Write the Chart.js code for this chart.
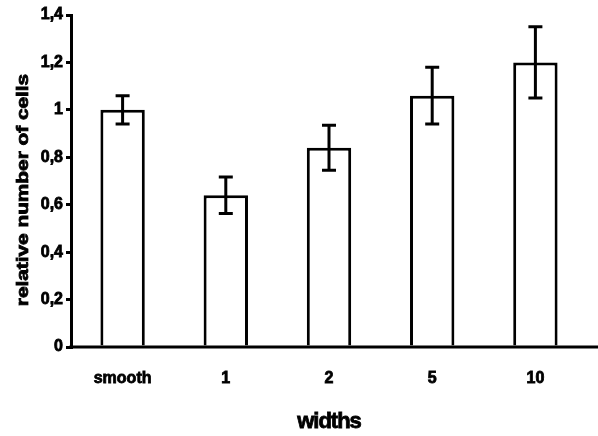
<!DOCTYPE html>
<html>
<head>
<meta charset="utf-8">
<script src="https://cdn.jsdelivr.net/npm/chart.js@4/dist/chart.umd.min.js"></script>
<style>
  html, body { margin: 0; padding: 0; background: #fff; }
  #wrap { width: 598px; height: 436px; }
</style>
</head>
<body>
<div id="wrap"><canvas id="c" width="598" height="436"></canvas></div>
<script>
// Relative cell counts per surface width, with error bar half-lengths
const categories = ['smooth', '1', '2', '5', '10'];
const values = [1.0, 0.64, 0.84, 1.06, 1.2];
const errors = [0.06, 0.077, 0.095, 0.12, 0.15];
const yTickLabels = ['0', '0,2', '0,4', '0,6', '0,8', '1', '1,2', '1,4'];
const xTitle = 'widths';
const yTitle = 'relative number of cells';

const FONT = '"Liberation Sans", Arial, sans-serif';

// Draws the error bars, the full-width x axis line and the axis titles
const extras = {
  id: 'extras',
  afterDatasetsDraw(chart) {
    const ctx = chart.ctx;
    const y = chart.scales.y;
    const meta = chart.getDatasetMeta(0);
    ctx.save();
    ctx.strokeStyle = '#000';
    ctx.lineWidth = 3;
    ctx.lineCap = 'butt';
    meta.data.forEach((bar, i) => {
      const top = y.getPixelForValue(values[i] + errors[i]);
      const bot = y.getPixelForValue(values[i] - errors[i]);
      const cap = 7;
      ctx.beginPath();
      ctx.moveTo(bar.x, top);
      ctx.lineTo(bar.x, bot);
      ctx.moveTo(bar.x - cap, top);
      ctx.lineTo(bar.x + cap, top);
      ctx.moveTo(bar.x - cap, bot);
      ctx.lineTo(bar.x + cap, bot);
      ctx.stroke();
    });
    // x axis line runs to the right edge of the canvas
    const y0 = y.getPixelForValue(0);
    ctx.beginPath();
    ctx.moveTo(chart.chartArea.left - 1.5, y0);
    ctx.lineTo(chart.width, y0);
    ctx.stroke();
    ctx.restore();
  },
  afterDraw(chart) {
    const ctx = chart.ctx;
    const area = chart.chartArea;
    ctx.save();
    ctx.fillStyle = '#000';
    ctx.strokeStyle = '#000';
    ctx.lineWidth = 0.8;
    ctx.textAlign = 'center';
    ctx.textBaseline = 'middle';
    ctx.font = 'bold 22px ' + FONT;
    ctx.letterSpacing = '-1px';
    ctx.fillText(xTitle, (area.left + area.right) / 2, 422);
    ctx.strokeText(xTitle, (area.left + area.right) / 2, 422);
    ctx.letterSpacing = '0px';
    ctx.translate(24, 190);
    ctx.rotate(-Math.PI / 2);
    ctx.scale(1.3, 1);
    ctx.font = 'bold 16px ' + FONT;
    ctx.fillText(yTitle, 0, 0);
    ctx.strokeText(yTitle, 0, 0);
    ctx.restore();
  }
};

const tickFont = { family: FONT, size: 16, weight: 'bold' };

new Chart(document.getElementById('c'), {
  type: 'bar',
  data: {
    labels: categories,
    datasets: [{
      data: values,
      backgroundColor: '#fff',
      borderColor: '#000',
      borderWidth: 3,
      barPercentage: 0.43,
      categoryPercentage: 1
    }]
  },
  options: {
    responsive: false,
    animation: false,
    devicePixelRatio: 1,
    layout: { padding: { top: 15, right: 11, left: 0, bottom: 0 } },
    plugins: { legend: { display: false }, tooltip: { enabled: false } },
    scales: {
      x: {
        grid: { display: false, drawTicks: false },
        border: { display: false },
        ticks: { color: '#000', font: tickFont, padding: 22, textStrokeColor: '#000', textStrokeWidth: 0.8 },
        afterFit(scale) { scale.height = 89; }
      },
      y: {
        min: 0,
        max: 1.4,
        grid: { display: true, drawOnChartArea: false, drawTicks: true, tickLength: 5, color: '#000', lineWidth: 3 },
        border: { display: true, color: '#000', width: 3 },
        ticks: {
          stepSize: 0.2,
          color: '#000',
          padding: 3,
          font: tickFont,
          textStrokeColor: '#000',
          textStrokeWidth: 0.8,
          callback(v, i) { return yTickLabels[i]; }
        },
        afterFit(scale) { scale.width = 71; }
      }
    }
  },
  plugins: [extras]
});
</script>
</body>
</html>
